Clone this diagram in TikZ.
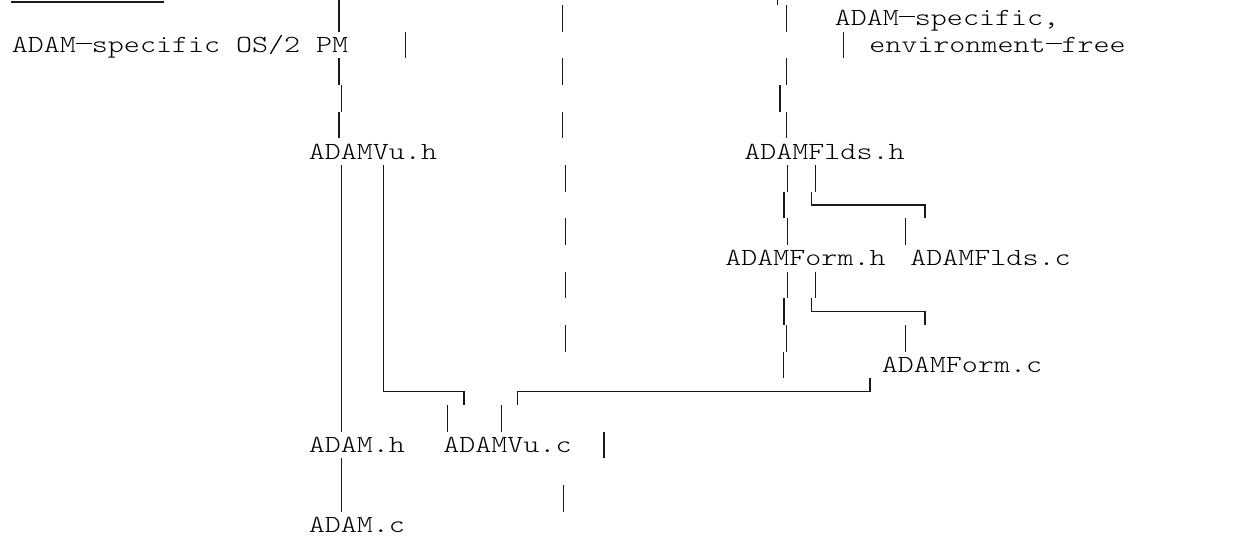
\documentclass[tikz,border=0pt]{standalone}
\usepackage{fontspec}
\setmonofont[FakeStretch=1.24]{lmmonolt10-regular.otf}
\usepackage{tikz}

% full-cell dash as printed by the reference font
\newcommand\celldash{\rule[4.4pt]{8pt}{0.6pt}}

\tikzset{
  file/.style={anchor=base west,inner sep=0pt,
    font=\ttfamily\fontsize{12.3}{15}\selectfont},
  wire/.style={draw=black!90,line width=0.65pt}
}

\begin{document}
\begin{tikzpicture}[x=0.5pt,y=-0.5pt]
  \useasboundingbox (0,0) rectangle (1248,539);

  % file names (one text row = 26.667 units)
  \node[file] (os2)  at (11.5,52.7)   {ADAM\celldash specific OS/2 PM};
  \node[file] (spec) at (834.5,26)    {ADAM\celldash specific,};
  \node[file] (free) at (869,52.7)    {environment\celldash free};
  \node[file] (vuh)  at (308.5,159.3) {ADAMVu.h};
  \node[file] (fldh) at (744,159.3)   {ADAMFlds.h};
  \node[file] (frmh) at (725,266)     {ADAMForm.h};
  \node[file] (fldc) at (910,266)     {ADAMFlds.c};
  \node[file] (frmc) at (881.5,372.7) {ADAMForm.c};
  \node[file] (adh)  at (308.5,452.7) {ADAM.h};
  \node[file] (vuc)  at (443,452.7)   {ADAMVu.c};
  \node[file] (adc)  at (308.5,532.7) {ADAM.c};

  % rule and ticks left over from the row above
  \draw[wire] (11,2) -- (164,2);
  \draw[wire] (339,0) -- (339,5);
  \draw[wire] (777.7,0) -- (777.7,5);

  % bars of the three columns, one per row
  \foreach \x/\r in {339/0,405.7/1,339/2,341.7/3,339/4}
    \draw[wire] (\x,5+26.667*\r) -- ++(0,26.667);
  \foreach \x/\r in {562.7/0,562.7/2,562.7/4,565.7/6,565.7/8,565.7/10,565.7/12,604/16,563.3/18}
    \draw[wire] (\x,5+26.667*\r) -- ++(0,26.667);
  \foreach \x/\r in {786.7/0,843.3/1,786.7/2,780/3,786.7/4}
    \draw[wire] (\x,5+26.667*\r) -- ++(0,26.667);
  \foreach \x/\r in {787.3/6,784/7,787.3/8,787.3/10,784/11,786.7/12,783.3/13}
    \draw[wire] (\x,5+26.667*\r) -- ++(0,26.667);

  % ADAMVu.h -> ADAM.h -> ADAM.c
  \coordinate (vuh-s) at (341.7,165);
  \coordinate (adh-n) at (341.7,431.7);
  \coordinate (adh-s) at (341.7,458.3);
  \coordinate (adc-n) at (341.7,511.7);
  \draw[wire] (vuh-s) -- (adh-n);
  \draw[wire] (adh-s) -- (adc-n);

  % ADAMVu.h -> ADAMVu.c
  \coordinate (vuh-se) at (383.3,165);
  \coordinate (vu-in1) at (464,405);
  \coordinate (vuc-n1) at (447.7,405);
  \draw[wire] (vuh-se) |- (435,391.7) -| (vu-in1);
  \draw[wire] (vuc-n1) -- ++(0,26.667);

  % ADAMForm.c -> ADAMVu.c
  \coordinate (frmc-sw) at (870,378.3);
  \coordinate (vu-in2)  at (517.7,405);
  \coordinate (vuc-n2)  at (501.7,405);
  \draw[wire] (frmc-sw) |- (700,391.7) -| (vu-in2);
  \draw[wire] (vuc-n2) -- ++(0,26.667);

  % ADAMFlds.h -> ADAMFlds.c
  \coordinate (fldh-s) at (815.7,165);
  \coordinate (fldc-n) at (905.7,218.3);
  \draw[wire] (fldh-s) -- ++(0,26.667);
  \draw[wire] (811.7,191.7) |- (880,205) -| (925,218.3);
  \draw[wire] (fldc-n) -- ++(0,26.667);

  % ADAMForm.h -> ADAMForm.c
  \coordinate (frmh-s) at (815.7,271.7);
  \coordinate (frmc-n) at (905.7,325);
  \draw[wire] (frmh-s) -- ++(0,26.667);
  \draw[wire] (811.7,298.3) |- (880,311.7) -| (925,325);
  \draw[wire] (frmc-n) -- ++(0,26.667);
\end{tikzpicture}
\end{document}
